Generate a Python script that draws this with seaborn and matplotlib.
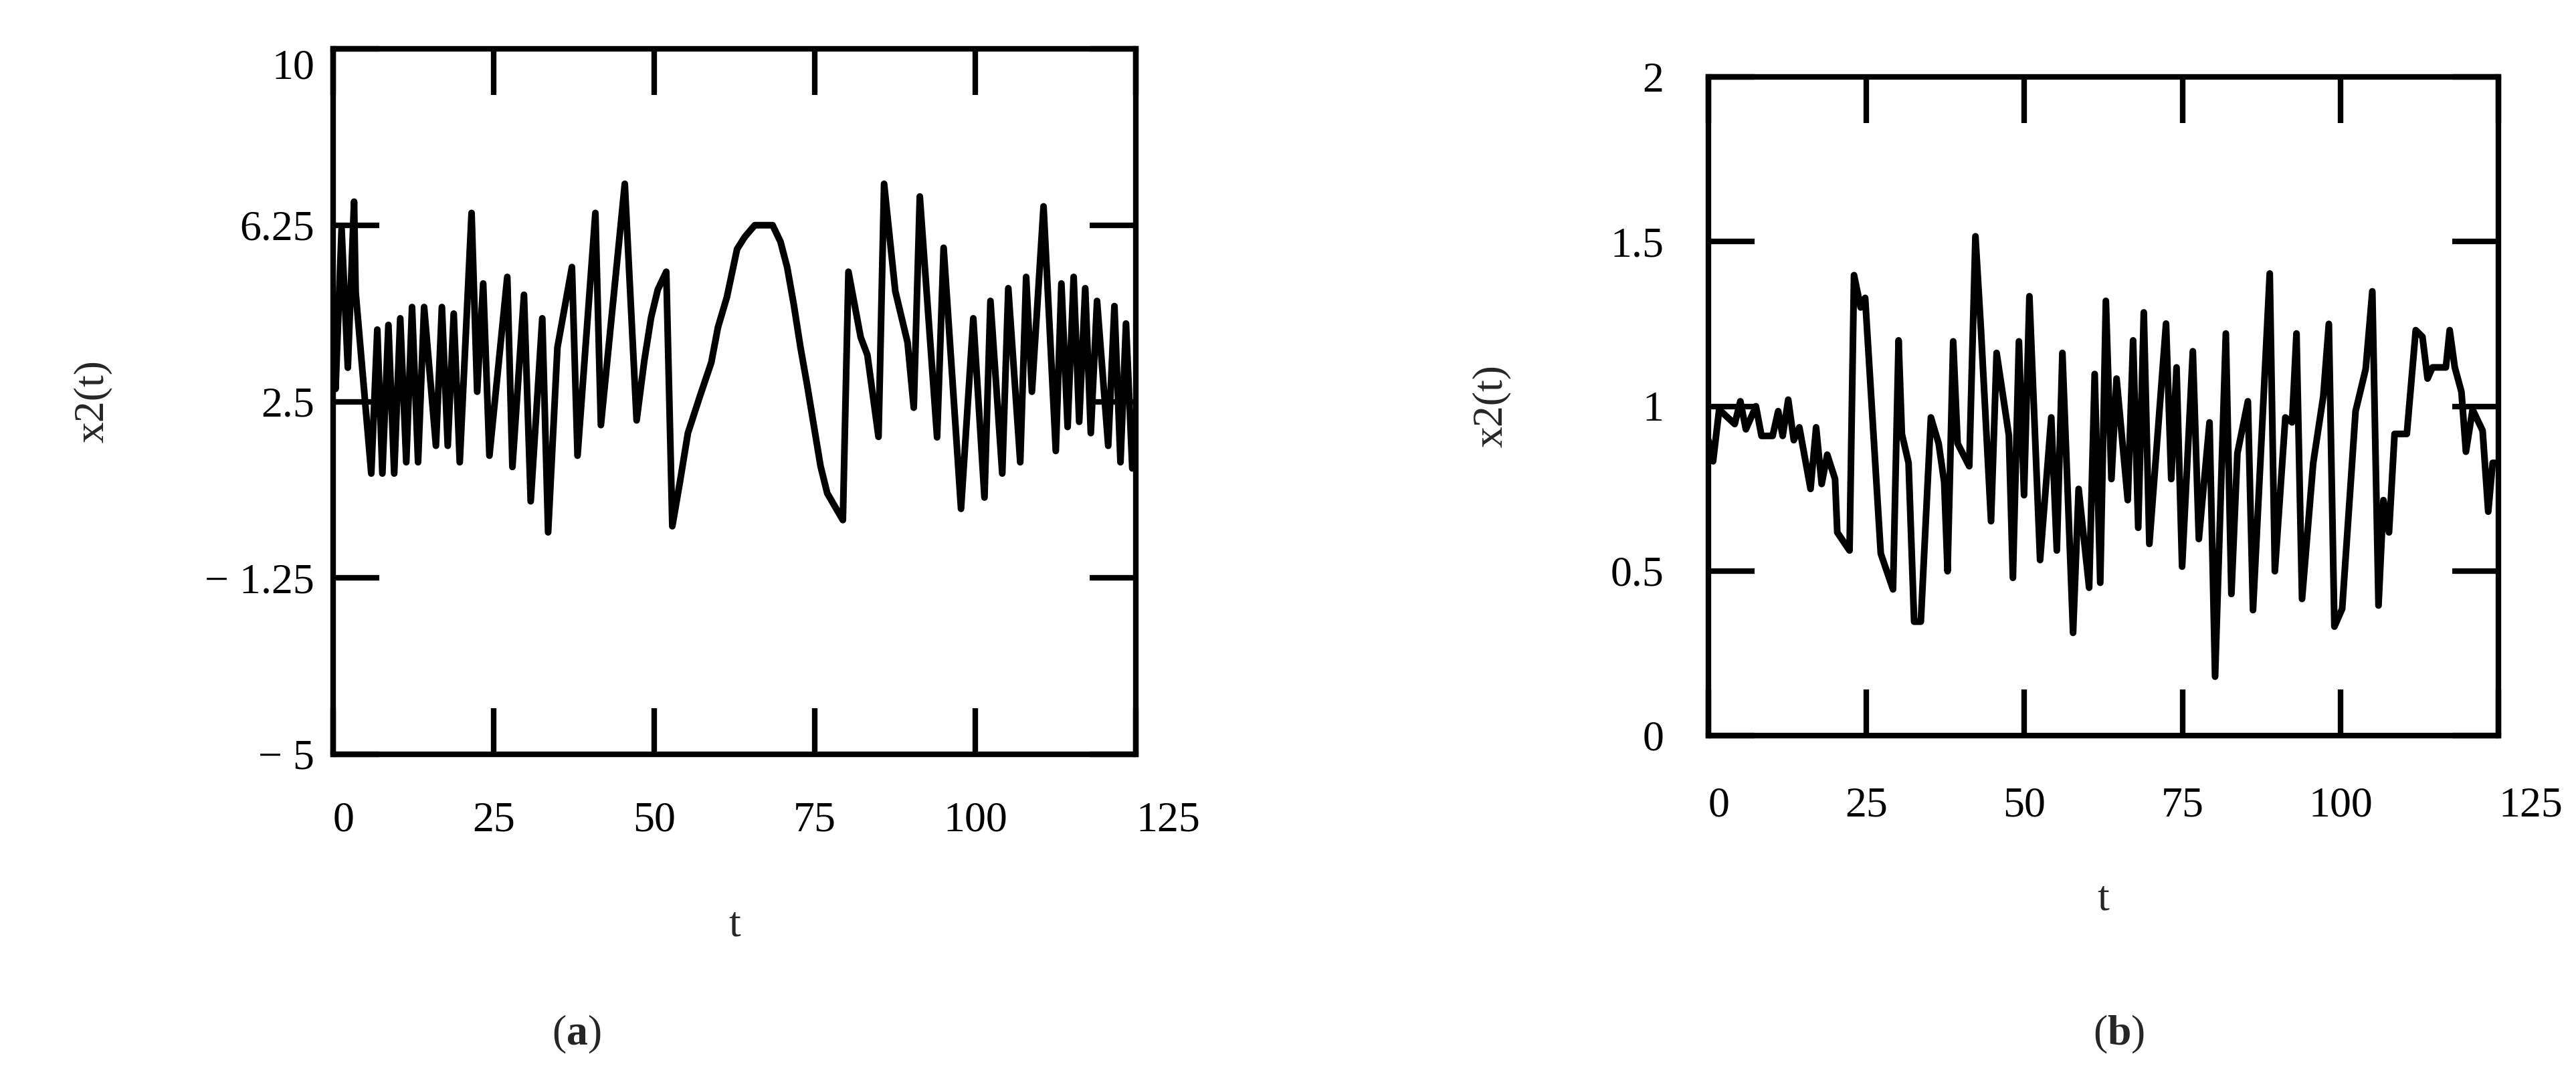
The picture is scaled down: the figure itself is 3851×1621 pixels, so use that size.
import numpy as np
import pandas as pd
import matplotlib
matplotlib.use('Agg')
import matplotlib.pyplot as plt
import seaborn as sns

# ---- data (vertices of the two x2(t) traces) ----
t_a = [0.0, 0.38, 1.32, 2.29, 3.26, 3.51, 5.94, 6.88, 7.67, 8.61, 9.51, 10.45, 11.39, 12.29,
       13.23, 14.17, 16.01, 16.94, 17.85, 18.78, 19.72, 21.56, 22.43, 23.37, 24.34, 27.12,
       27.92, 29.72, 30.77, 32.57, 33.48, 34.93, 37.19, 38.06, 40.84, 41.7, 45.42, 47.26,
       48.47, 49.52, 50.56, 51.88, 52.82, 54.03, 55.25, 57.16, 58.89, 59.93, 61.32, 62.9,
       64.1, 65.66, 68.44, 69.66, 70.7, 71.74, 72.78, 73.82, 74.86, 75.9, 76.95, 79.38,
       80.25, 82.15, 83.2, 84.93, 85.8, 87.54, 89.45, 90.42, 91.36, 94.05, 95.07, 97.78,
       99.69, 101.43, 102.36, 104.2, 105.14, 107.0, 107.92, 108.82, 110.63, 112.54, 113.41,
       114.38, 115.32, 116.18, 117.12, 117.99, 118.96, 120.7, 121.67, 122.61, 123.47,
       124.45, 125.0]
x2_a = [4.34, 2.77, 6.17, 3.22, 6.75, 4.83, 0.97, 4.03, 0.97, 4.13, 0.97, 4.27, 1.21, 4.51,
        1.21, 4.51, 1.56, 4.51, 1.56, 4.37, 1.21, 6.51, 2.71, 5.01, 1.35, 5.15,
        1.11, 4.77, 0.38, 4.27, -0.28, 3.65, 5.36, 1.35, 6.51, 2.0, 7.13, 2.1,
        3.38, 4.29, 4.88, 5.26, -0.15, 0.81, 1.83, 2.63, 3.33, 4.08, 4.72, 5.74,
        6.0, 6.25, 6.25, 5.9, 5.36, 4.56, 3.65, 2.85, 1.99, 1.13, 0.55, -0.02,
        5.26, 3.87, 3.49, 1.75, 7.13, 4.85, 3.76, 2.37, 6.86, 1.74, 5.77, 0.22,
        4.27, 0.46, 4.64, 0.97, 4.91, 1.21, 5.15, 2.71, 6.65, 1.45, 5.01,
        1.96, 5.15, 2.07, 4.91, 1.83, 4.64, 1.56, 4.53, 1.21, 4.16,
        1.08, 1.15]

t_b = [0.0, 0.74, 1.7, 4.16, 5.05, 5.93, 7.52, 8.4, 10.16, 11.04, 11.75, 12.63, 13.51, 14.39,
       16.16, 17.04, 17.92, 18.8, 20.04, 20.39, 22.33, 23.04, 24.09, 24.8, 27.27, 29.21,
       30.09, 30.61, 31.67, 32.55, 33.61, 35.2, 36.43, 37.31, 37.84, 38.73, 39.43, 41.27,
       42.25, 43.13, 44.72, 45.6, 47.54, 48.18, 49.13, 49.94, 50.79, 52.48, 54.25, 55.13,
       56.01, 57.7, 58.58, 60.24, 61.12, 62.0, 62.89, 63.77, 64.58, 66.35, 67.2, 68.01,
       68.89, 69.77, 72.41, 73.23, 74.07, 74.95, 76.65, 77.6, 79.29, 80.17, 81.87, 82.75,
       83.7, 85.36, 86.17, 88.82, 89.63, 91.29, 92.35, 93.05, 93.93, 95.7, 97.29, 98.17,
       99.05, 100.28, 102.4, 104.0, 105.05, 106.03, 106.81, 107.69, 108.57, 110.51,
       111.92, 112.98, 113.79, 114.57, 116.69, 117.29, 118.1, 119.15, 119.86, 120.92,
       122.5, 123.39, 124.09, 124.8]
x2_b = [0.897, 0.833, 0.99, 0.946, 1.015, 0.93, 1.0, 0.91, 0.91, 0.985, 0.91, 1.02, 0.897, 0.936,
        0.749, 0.936, 0.764, 0.853, 0.779, 0.617, 0.562, 1.398, 1.30, 1.329, 0.553, 0.444,
        1.20, 0.916, 0.828, 0.346, 0.346, 0.966, 0.887, 0.769, 0.499, 1.197, 0.887, 0.818,
        1.516, 1.231, 0.651, 1.162, 0.912, 0.479, 1.197, 0.73, 1.334, 0.533, 0.966, 0.562,
        1.162, 0.312, 0.749, 0.449, 1.098, 0.464, 1.32, 0.779, 1.084, 0.715, 1.2, 0.631,
        1.285, 0.582, 1.251, 0.779, 1.118, 0.513, 1.167, 0.597, 0.951, 0.179, 1.221, 0.43,
        0.857, 1.015, 0.381, 1.403, 0.499, 0.966, 0.951, 1.221, 0.415, 0.828, 1.03, 1.25,
        0.331, 0.385, 0.985, 1.113, 1.349, 0.395, 0.715, 0.617, 0.916, 0.916,
        1.231, 1.211, 1.084, 1.118, 1.118, 1.231, 1.118, 1.044, 0.862, 0.99,
        0.926, 0.68, 0.828, 0.828]

xticks = [0, 25, 50, 75, 100, 125]
yticks_a = [-5, -1.25, 2.5, 6.25, 10]
ytick_labels_a = ['\u2212 5', '\u2212 1.25', '2.5', '6.25', '10']
yticks_b = [0, 0.5, 1, 1.5, 2]
ytick_labels_b = ['0', '0.5', '1', '1.5', '2']

sns.set_theme(style='white')
plt.rcParams['font.family'] = ['Liberation Serif', 'DejaVu Serif']
plt.rcParams['mathtext.fontset'] = 'custom'
plt.rcParams['mathtext.rm'] = 'Liberation Serif'
plt.rcParams['mathtext.bf'] = 'Liberation Serif:bold'

W, H = 3851, 1621
fig = plt.figure(figsize=(W / 100, H / 100), dpi=100)
fig.patch.set_facecolor('white')

FS = 46


def px_axes(left, right, top, bottom):
    return fig.add_axes([left / W, 1 - bottom / H, (right - left) / W, (bottom - top) / H])


ax_a = px_axes(498, 1698, 73, 1128)
ax_b = px_axes(2554, 3735, 115, 1100)

df_a = pd.DataFrame({'t': t_a, 'x2': x2_a})
df_b = pd.DataFrame({'t': t_b, 'x2': x2_b})

for ax, df, yt, ytl, ylim, ypad, xpad in [
        (ax_a, df_a, yticks_a, ytick_labels_a, (-5, 10), 20, 51),
        (ax_b, df_b, yticks_b, ytick_labels_b, (0, 2), 48, 55)]:
    sns.lineplot(data=df, x='t', y='x2', ax=ax, color='black', linewidth=7.2,
                 sort=False, estimator=None)
    ax.set_xlim(0, 125)
    ax.set_ylim(*ylim)
    ax.set_xticks(xticks)
    ax.set_xticklabels([str(v) for v in xticks])
    ax.set_yticks(yt)
    ax.set_yticklabels(ytl)
    ax.tick_params(axis='both', direction='in', length=50, width=6, color='black',
                   labelsize=FS, labelcolor='black',
                   bottom=True, left=True, top=True, right=True)
    ax.tick_params(axis='x', pad=xpad)
    ax.tick_params(axis='y', pad=ypad)
    # first and last x labels sit to the right of their tick, as in the original
    xl = ax.get_xticklabels()
    xl[0].set_horizontalalignment('left')
    xl[-1].set_horizontalalignment('left')
    for sp in ax.spines.values():
        sp.set_visible(True)
        sp.set_linewidth(6)
        sp.set_color('black')
    ax.set_facecolor('white')
    ax.set_xlabel('t', fontsize=FS)
    ax.set_ylabel('x2(t)', fontsize=FS)

ax_a.get_yticklabels()[-1].set_verticalalignment('top')

ax_a.yaxis.set_label_coords(-0.275, 0.5)
ax_a.xaxis.set_label_coords(0.5, -0.216)
ax_b.yaxis.set_label_coords(-0.25, 0.5)
ax_b.xaxis.set_label_coords(0.5, -0.22)

fig.text(862 / W, 1 - 1547 / H, r'($\mathbf{a}$)', fontsize=FS, ha='center', va='center')
fig.text(3168 / W, 1 - 1547 / H, r'($\mathbf{b}$)', fontsize=FS, ha='center', va='center')

fig.savefig('out.png', dpi=100, facecolor='white')
